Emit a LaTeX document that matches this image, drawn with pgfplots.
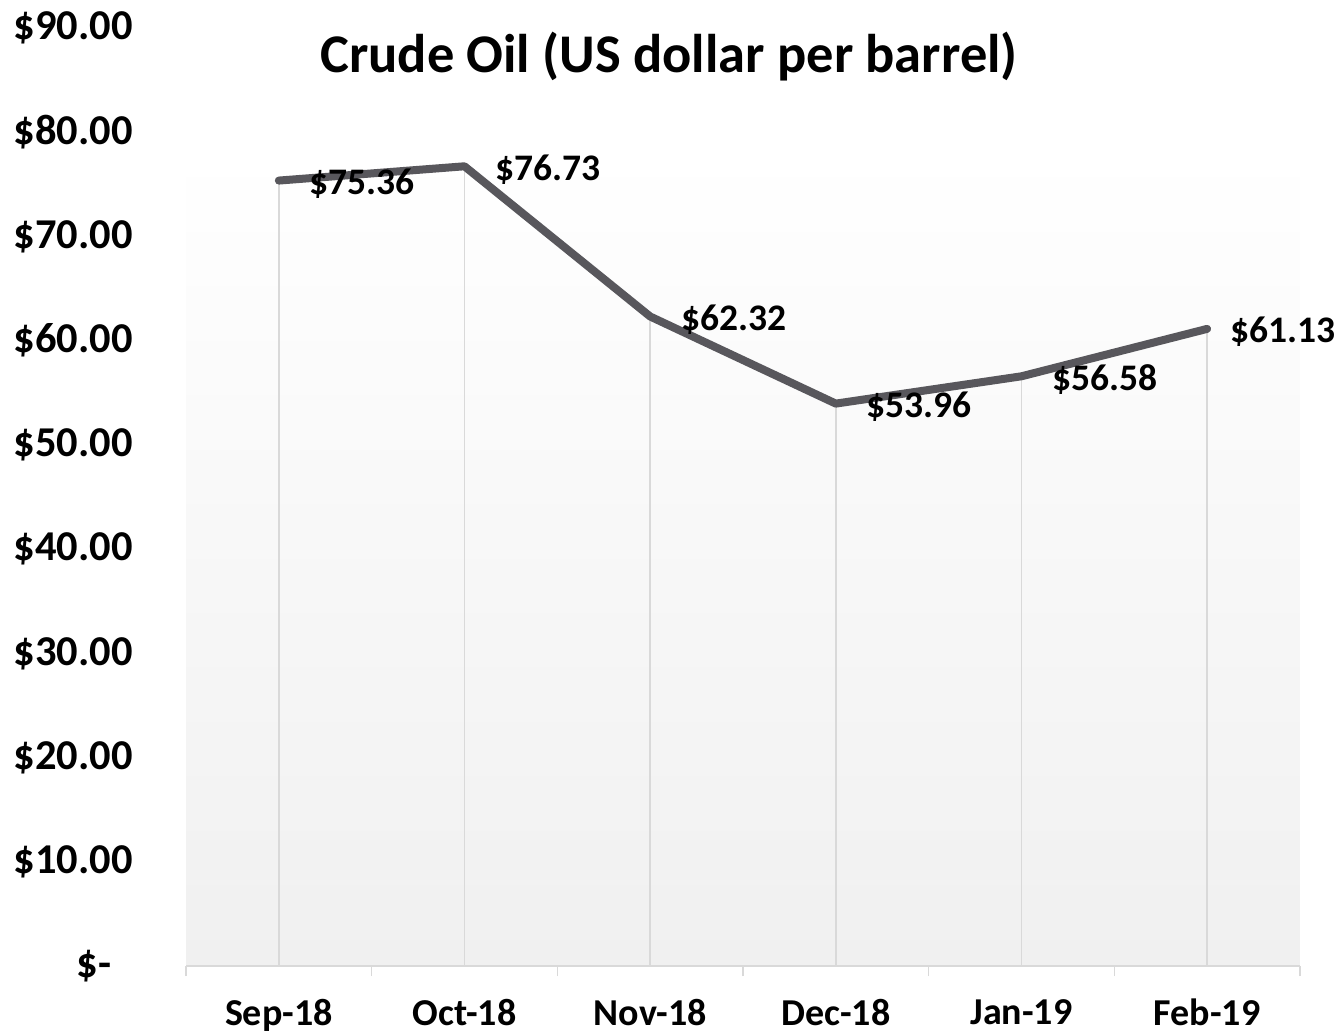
\documentclass[border=0pt]{standalone}
\usepackage{pgfplots}
\pgfplotsset{compat=1.18}
\usepackage{fontspec}
\setmainfont{Carlito}
\definecolor{linec}{HTML}{58575C}
\definecolor{gridc}{HTML}{D9D9D9}
\definecolor{bgc}{HTML}{F0F0F0}
\begin{document}
\begin{tikzpicture}[x=1pt,y=1pt]
\path[use as bounding box] (0,0) rectangle (1343,1033);
\begin{axis}[
  at={(186pt,67pt)}, anchor=south west,
  width=1114pt, height=938pt, scale only axis,
  xmin=-0.5, xmax=5.5, ymin=0, ymax=90,
  axis x line*=bottom, axis y line*=left,
  x axis line style={gridc, line width=1.5pt, -},
  y axis line style={draw=none},
  axis on top,
  xtick={0,...,5},
  xticklabels={Sep-18,Oct-18,Nov-18,Dec-18,Jan-19,Feb-19},
  minor xtick={-0.5,0.5,...,5.5},
  major tick length=0pt, minor tick length=10pt, tick align=outside,
  minor x tick style={gridc, line width=1.5pt},
  major tick style={draw=none},
  ytick={0,10,...,90},
  yticklabels={\$-\hphantom{0},\$10.00,\$20.00,\$30.00,\$40.00,\$50.00,\$60.00,\$70.00,\$80.00,\$90.00},
  yticklabel style={anchor=east, inner sep=0pt, xshift=-53pt, text=black,
    font=\fontsize{42.5}{42.5}\selectfont\bfseries},
  xticklabel style={anchor=north, inner sep=0pt, yshift=-33pt, text=black,
    font=\fontsize{38}{38}\selectfont\bfseries},
  clip=false,
]
\fill[top color=white, bottom color=bgc, draw=none] (rel axis cs:0,0) rectangle (rel axis cs:1,0.87);
\addplot[ycomb, gridc, line width=1.5pt, mark=none] coordinates {
  (0,75.36) (1,76.73) (2,62.32) (3,53.96) (4,56.58) (5,61.13)};
\addplot[linec, line width=8pt, line cap=round, line join=round, mark=none,
  nodes near coords, point meta=explicit symbolic,
  nodes near coords style={anchor=west, inner sep=0pt, xshift=27pt, yshift=-3pt, text=black,
    font=\fontsize{37.5}{37.5}\selectfont\bfseries}]
  coordinates {
  (0,75.36) [\$75.36]
  (1,76.73) [\$76.73]
  (2,62.32) [\$62.32]
  (3,53.96) [\$53.96]
  (4,56.58) [\$56.58]
  (5,61.13) [\kern-8pt\$61.13]
};
\end{axis}
\node[font=\fontsize{54.5}{54.5}\selectfont\bfseries, inner sep=0pt] at (669,976) {Crude Oil (US dollar per barrel)};
\end{tikzpicture}
\end{document}
